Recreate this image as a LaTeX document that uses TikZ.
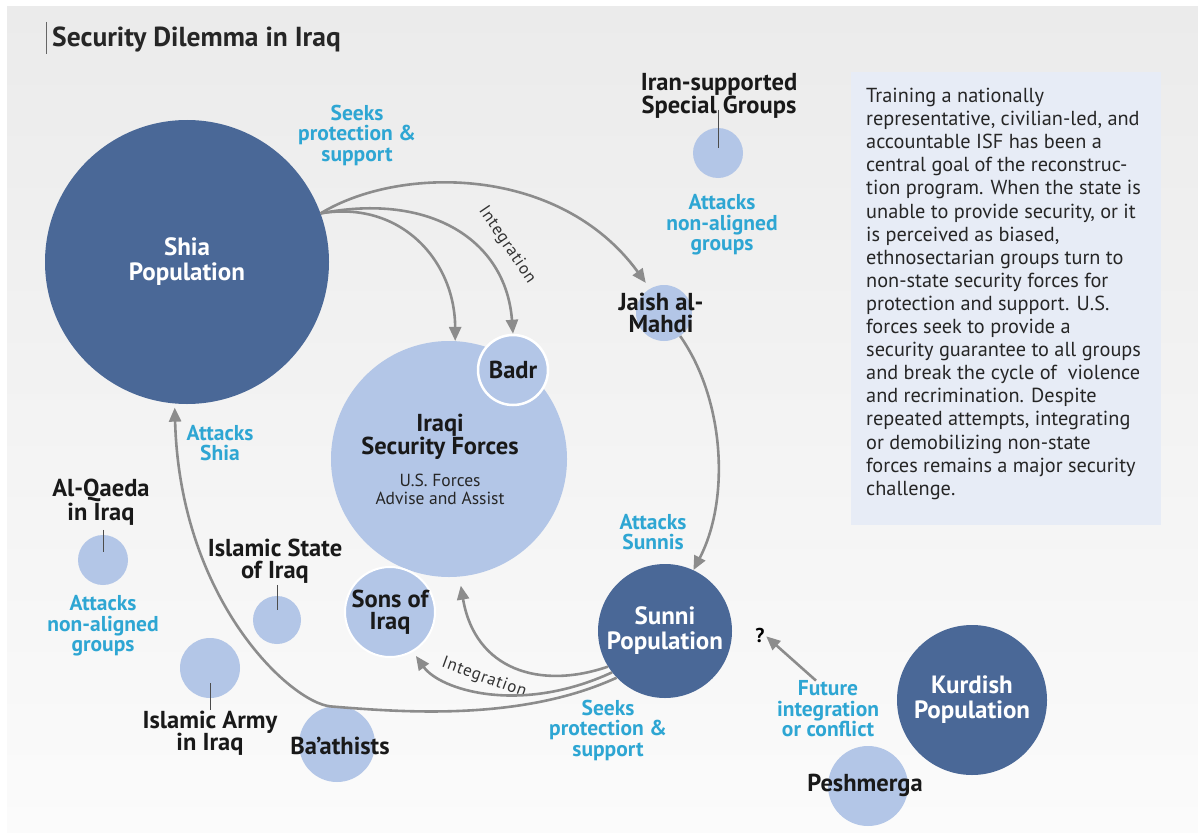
\documentclass[tikz,border=0pt]{standalone}
\usepackage{fontspec}
\setmainfont{PT Sans}
\usetikzlibrary{arrows.meta}
\definecolor{popblue}{HTML}{4A6897}
\definecolor{grpblue}{HTML}{B3C6E7}
\definecolor{actcyan}{HTML}{2EA6D3}
\definecolor{arrgray}{HTML}{8C8C8C}
\definecolor{boxblue}{HTML}{E7ECF6}
\definecolor{bgtop}{HTML}{EBEBEB}
\definecolor{bgbot}{HTML}{FBFBFB}
\newcommand{\fs}[2]{\fontsize{#1}{#2}\selectfont}

\begin{document}
\begin{tikzpicture}[x=1pt,y=-1pt,
  every node/.style={inner sep=0pt,align=center},
  pop/.style={circle,fill=popblue,text=white,font=\bfseries\fs{25}{25}},
  grp/.style={circle,fill=grpblue},
  grpname/.style={font=\bfseries\fs{24.5}{22.5},text=black!90},
  act/.style={text=actcyan,font=\bfseries\fs{21.5}{20.5}},
  intg/.style={font=\fs{17}{19}\addfontfeatures{LetterSpace=5},text=black!80},
  flow/.style={draw=arrgray,line width=2.6pt,-{Triangle[length=14pt,width=12pt]}},
  lead/.style={draw=black!70,line width=0.8pt}]
   \useasboundingbox (0,0) rectangle (1198,832);
   \fill[white] (0,0) rectangle (1198,832);
   \shade[top color=bgtop,bottom color=bgbot] (7,7) rectangle (1198,832);
   \fill[boxblue] (851,72) rectangle (1161,525);
   \draw[black!60,line width=0.8pt] (46,22) -- (46,54);
   \node[anchor=west,font=\bfseries\fs{27.5}{28},text=black!85] (title) at (52,40) {Security Dilemma in Iraq};
   \node[anchor=north west,align=left,font=\fs{20.3}{23.1},text=black!85] (note) at (866,88)
     {Training a nationally\\representative, civilian-led, and\\accountable ISF has been a\\central goal of the reconstruc-\\tion program. When the state is\\unable to provide security, or it\\is perceived as biased,\\ethnosectarian groups turn to\\non-state security forces for\\protection and support. U.S.\\forces seek to provide a\\security guarantee to all groups\\and break the cycle of\ \ violence\\and recrimination. Despite\\repeated attempts, integrating\\or demobilizing non-state\\forces remains a major security\\challenge.};

   \node[pop,minimum size=284pt] (shia) at (187,262) {Shia\\Population};
   \node[grp,minimum size=236pt] (isf) at (449,459) {};
   \node[grp,grpname,minimum size=70pt,draw=white,line width=2.5pt] (badr) at (513,370) {Badr};
   \node[grp,grpname,minimum size=90pt,draw=white,line width=2pt] (sons) at (390,612) {Sons of\\Iraq};
   \node[grp,minimum size=56pt] (jaish) at (664,313) {};
   \node[grp,minimum size=50pt] (iran) at (718,153) {};
   \node[grp,minimum size=50pt] (aqi) at (103,560) {};
   \node[grp,minimum size=48pt] (isi) at (277,620) {};
   \node[grp,minimum size=60pt] (iai) at (210,668) {};
   \node[grp,minimum size=76pt] (baath) at (337,744) {};
   \node[pop,minimum size=134pt] (sunni) at (665,631) {Sunni\\Population};
   \node[grp,minimum size=80pt] (pesh) at (868,786) {};
   \node[pop,minimum size=150pt] (kurd) at (972,700) {Kurdish\\Population};

   \node[grpname] (isflbl) at (440,437) {Iraqi\\Security Forces};
   \node[font=\fs{17.5}{18},text=black!85] (isfsub) at (440,489) {U.S. Forces\\Advise and Assist};
   \node[grpname] (jaishlbl) at (661,313) {Jaish al-\\Mahdi};
   \node[grpname] (iranlbl) at (719,96) {Iran-supported\\Special Groups};
   \node[grpname] (aqilbl) at (101,502) {Al-Qaeda\\in Iraq};
   \node[grpname] (isilbl) at (275,561) {Islamic State\\of Iraq};
   \node[grpname] (iailbl) at (210,733) {Islamic Army\\in Iraq};
   \node[grpname] (baathlbl) at (340,746) {Ba’athists};
   \node[grpname] (peshlbl) at (865,785) {Peshmerga};

   \node[act] (shiaseek) at (357,135) {Seeks\\protection \&\\support};
   \node[act] (iranact) at (722,225) {Attacks\\non-aligned\\groups};
   \node[act] (shiaatk) at (220,443) {Attacks\\Shia};
   \node[act] (aqiact) at (103,626) {Attacks\\non-aligned\\groups};
   \node[act] (sunniatk) at (653,532) {Attacks\\Sunnis};
   \node[act] (sunniseek) at (608,730) {Seeks\\protection \&\\support};
   \node[act] (future) at (828,709) {Future\\integration\\or conflict};
   \node[font=\bfseries\fs{20}{20}] (qmark) at (760,635) {?};
   \node[intg,rotate=-56] (intbadr) at (507,245) {Integration};
   \node[intg,rotate=-20] (intsons) at (484,678) {Integration};

   \draw[lead] ([yshift=18pt]iran.north) -- ([yshift=5pt]iran.center);
   \draw[lead] ([yshift=5pt]aqi.north) -- ([yshift=8pt]aqi.center);
   \draw[lead] ([yshift=11pt]isi.north) -- ([yshift=10pt]isi.center);
   \draw[lead] ([yshift=-15pt]iai.center) -- ([yshift=-12pt]iai.south);

   \draw[flow] (shia.20) .. controls (400,200) and (455,260) .. (isf.87);
   \draw[flow] (shia.20) .. controls (430,192) and (506,240) .. (badr.north);
   \draw[flow,shorten >=7pt] (shia.20) .. controls (400,165) and (560,165) .. (jaish.120);
   \draw[flow] (jaish.-55) .. controls (725,400) and (730,500) .. (sunni.65);
   \draw[flow,shorten >=9pt] (sunni.212) .. controls (540,690) and (475,670) .. (isf.-85);
   \draw[flow,shorten >=5pt] (sunni.218) .. controls (520,715) and (440,690) .. (sons.-60);
   \draw[flow,shorten >=4pt] (sunni.224) .. controls (520,722) and (400,712) .. (baath.100)
     .. controls (290,702) and (180,600) .. (shia.-95);
   \draw[flow,shorten >=2pt] ([xshift=-12pt]future.north) -- (qmark.east);
  \end{tikzpicture}
\end{document}
